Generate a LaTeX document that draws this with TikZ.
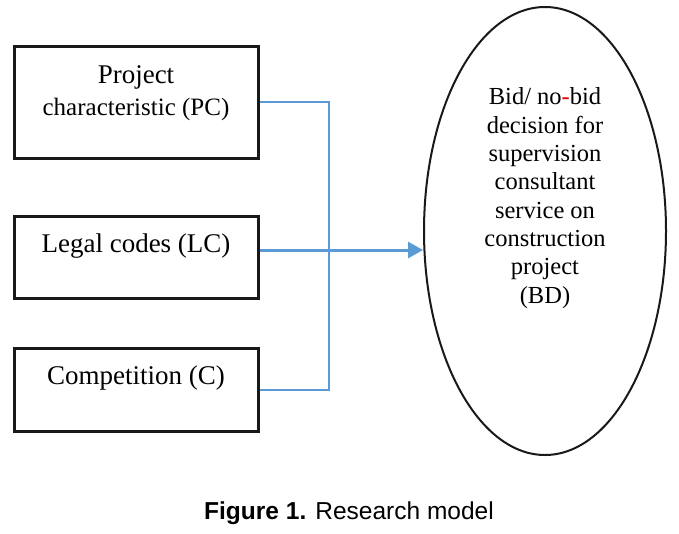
\documentclass[tikz,border=0pt]{standalone}
\usepackage{fontspec}
\setmainfont{Liberation Serif}
\newfontfamily\capfont{Liberation Sans}
\usetikzlibrary{shapes.geometric,arrows.meta}
\definecolor{linkblue}{HTML}{5B9BD5}
\definecolor{hyphred}{HTML}{E00000}
\tikzset{
  box/.style={draw=black!90, line width=3pt, rectangle, minimum width=244pt, inner sep=0pt},
  boxtext/.style={anchor=base, inner sep=0pt, font=\fontsize{27}{30}\selectfont},
  bdshape/.style={draw=black!90, line width=2pt, ellipse, minimum width=242pt, minimum height=448pt, inner sep=0pt},
  bdtext/.style={align=center, inner sep=0pt, anchor=base, font=\fontsize{24.5}{28.3}\selectfont},
  thinlink/.style={draw=linkblue, line width=1.2pt},
  arrlink/.style={draw=linkblue, line width=3pt, -{Triangle[length=15pt,width=16pt]}},
}
\begin{document}
\begin{tikzpicture}[x=1pt,y=-1pt]
\useasboundingbox (0,0) rectangle (679,533);
% boxes
\node[box, minimum height=112pt] (pc) at (136,102) {};
\node[box, minimum height=82pt] (lc) at (136,257) {};
\node[box, minimum height=83pt] (c) at (136,390) {};
\node[boxtext] (pc1) at (136,83) {Project};
\node[boxtext, font=\fontsize{25}{28}\selectfont] (pc2) at (136,115) {characteristic (PC)};
\node[boxtext] (lct) at (136,252) {Legal codes (LC)};
\node[boxtext] (ct) at (136,384) {Competition (C)};
% ellipse
\node[bdshape] (bd) at (545,231) {};
\node[bdtext] (bdt) at (545,303) {Bid/ no{\color{hyphred}-}bid\\decision for\\supervision\\consultant\\service on\\construction\\project\\(BD)};
% connectors
\coordinate (jb) at (329,390);
\draw[thinlink] (pc.east) -| (jb) -- (c.east);
\coordinate (a0) at ([yshift=7pt]lc.east);
\draw[arrlink] (a0) -- (a0 -| bd.west);
% caption
\node[anchor=base, inner sep=0pt, font=\capfont\fontsize{24.5}{28}\selectfont] (cap) at (349,519) {\textbf{Figure 1.} Research model};
\end{tikzpicture}
\end{document}
